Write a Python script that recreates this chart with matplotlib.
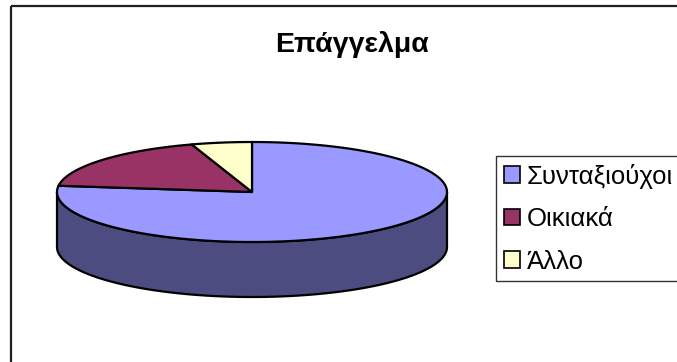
import numpy as np
import matplotlib
matplotlib.use("Agg")
import matplotlib.pyplot as plt
from matplotlib.patches import Polygon, Rectangle, Patch

# Occupation shares (percent)
labels = ["Συνταξιούχοι", "Οικιακά", "Άλλο"]
values = [77, 18, 5]
top_colors = ["#9999FF", "#993366", "#FFFFCC"]
side_colors = ["#4C4C80", "#4C1933", "#80806A"]

W, H = 677, 362
plt.rcParams["font.family"] = ["Liberation Sans", "DejaVu Sans"]

fig = plt.figure(figsize=(W / 100, H / 100), dpi=100)
ax = fig.add_axes([0, 0, 1, 1])
ax.set_xlim(0, W)
ax.set_ylim(H, 0)
ax.axis("off")

# chart area border (runs off the right and bottom edges)
ax.add_patch(Rectangle((11, 6), W + 20, H + 20, fill=False,
                       edgecolor="#202020", linewidth=1.6))

# 3D pie geometry, in pixels
cx, cy = 252, 192
a, b = 195, 50
depth = 55


def ell(theta):
    t = np.radians(theta)
    return cx + a * np.cos(t), cy - b * np.sin(t)


# slice angles: start at 12 o'clock, go clockwise
total = float(sum(values))
bounds = [90.0]
for v in values:
    bounds.append(bounds[-1] - 360.0 * v / total)

# side wall: only the front half (180..360 deg) is visible
for i in range(len(values)):
    hi, lo = bounds[i], bounds[i + 1]
    for shift in (-360, 0, 360):
        s0 = max(lo + shift, -180)
        s1 = min(hi + shift, 0)
        if s1 > s0:
            th = np.linspace(s0, s1, 120)
            xs, ys = ell(th)
            pts = np.column_stack([np.r_[xs, xs[::-1]],
                                   np.r_[ys, ys[::-1] + depth]])
            ax.add_patch(Polygon(pts, closed=True, facecolor=side_colors[i],
                                 edgecolor="black", linewidth=1.6,
                                 joinstyle="round"))

# top face wedges
for i in range(len(values)):
    th = np.linspace(bounds[i], bounds[i + 1], 200)
    xs, ys = ell(th)
    pts = np.column_stack([np.r_[cx, xs], np.r_[cy, ys]])
    ax.add_patch(Polygon(pts, closed=True, facecolor=top_colors[i],
                         edgecolor="black", linewidth=1.6, joinstyle="round"))

fig.text(352 / W, 1 - 44 / H, "Επάγγελμα", ha="center", va="center",
         fontsize=20.5, fontweight="bold")

handles = [Patch(facecolor=c, edgecolor="black", linewidth=1.2)
           for c in top_colors]
leg = fig.legend(handles, labels, loc="upper left",
                 bbox_to_anchor=(496 / W, 1 - 156 / H),
                 fontsize=18.5, frameon=True, fancybox=False, shadow=False,
                 handlelength=0.62, handleheight=0.62, handletextpad=0.28,
                 labelspacing=0.72, borderpad=0.3, borderaxespad=0)
leg.get_frame().set_edgecolor("black")
leg.get_frame().set_linewidth(1.0)

fig.savefig("out.png", dpi=100, facecolor="white")
